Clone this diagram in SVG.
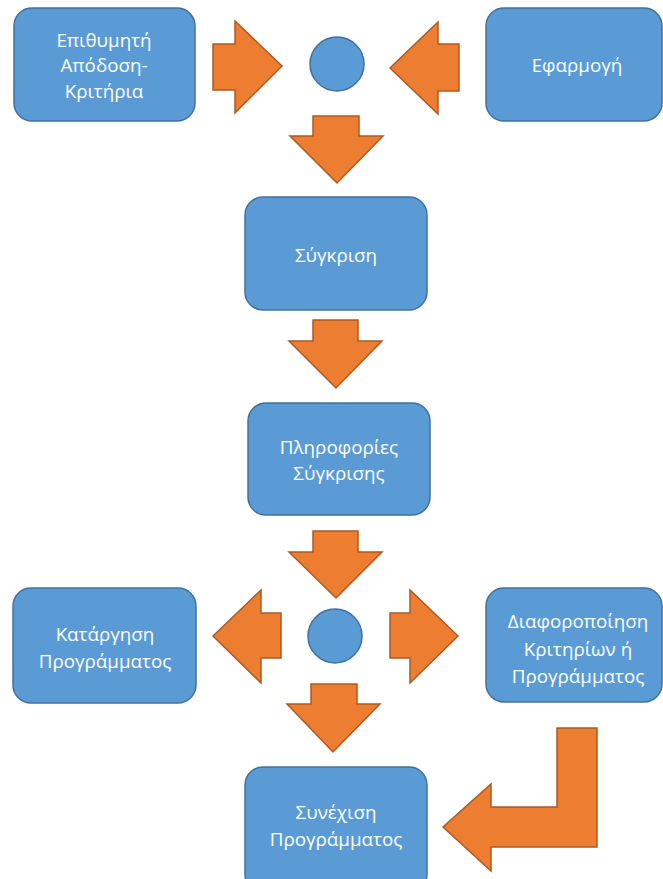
<svg xmlns="http://www.w3.org/2000/svg" width="663" height="879" viewBox="0 0 663 879">
<style>
.box{fill:#5B9BD5;stroke:#41719C;stroke-width:1.5}
.arr{fill:#ED7D31;stroke:#AE5A21;stroke-width:1.5;stroke-linejoin:miter}
.t{fill:#ffffff;font-family:"Open Sans","Noto Sans","Liberation Sans",sans-serif;font-size:18.8px;text-anchor:middle}
</style>
<rect width="663" height="879" fill="#ffffff"/>
<g id="connectors">
<path class="arr" d="M213,44 H235 V21 L282,66 L235,113 V90 H213 Z"/>
<path class="arr" d="M459,44 H438 V22 L390,68 L438,114 V91 H459 Z"/>
<path class="arr" d="M313,116 H359 V136 H383 L337,183 L290,136 H313 Z"/>
<path class="arr" d="M313,320 H358 V341 H382 L336,388 L289,341 H313 Z"/>
<path class="arr" d="M313,531 H358 V552 H382 L336,598 L289,552 H313 Z"/>
<path class="arr" d="M281,613 H261 V590 L213,636 L261,683 V658 H281 Z"/>
<path class="arr" d="M390,613 H410 V590 L458,636 L410,683 V658 H390 Z"/>
<path class="arr" d="M311,684 H357 V704 H380 L333,752 L287,704 H311 Z"/>
<path class="arr" d="M557,728 H597 V847 H491 V871 L443,827 L491,784 V807 H557 Z"/>
</g>
<g id="n1"><rect class="box" x="14" y="8" width="181" height="113" rx="18"/>
<text class="t" x="104" y="47">Επιθυμητή</text><text class="t" x="104" y="72">Απόδοση-</text><text class="t" x="104" y="98">Κριτήρια</text></g>
<g id="c1"><circle class="box" cx="337" cy="64" r="27"/></g>
<g id="n2"><rect class="box" x="486" y="8" width="176" height="113" rx="18"/>
<text class="t" x="577" y="72">Εφαρμογή</text></g>
<g id="n3"><rect class="box" x="245" y="197" width="182" height="113" rx="18"/>
<text class="t" x="336" y="262">Σύγκριση</text></g>
<g id="n4"><rect class="box" x="248" y="403" width="182" height="112" rx="18"/>
<text class="t" x="339" y="454">Πληροφορίες</text><text class="t" x="339" y="480">Σύγκρισης</text></g>
<g id="c2"><circle class="box" cx="335" cy="636" r="27"/></g>
<g id="n5"><rect class="box" x="13" y="588" width="183" height="115" rx="18"/>
<text class="t" x="105" y="641">Κατάργηση</text><text class="t" x="105" y="668">Προγράμματος</text></g>
<g id="n6"><rect class="box" x="486" y="588" width="176" height="114" rx="18"/>
<text class="t" x="578" y="628">Διαφοροποίηση</text><text class="t" x="578" y="656">Κριτηρίων ή</text><text class="t" x="578" y="683">Προγράμματος</text></g>
<g id="n7"><rect class="box" x="245" y="767" width="182" height="125" rx="18"/>
<text class="t" x="336" y="819">Συνέχιση</text><text class="t" x="336" y="846">Προγράμματος</text></g>
</svg>
